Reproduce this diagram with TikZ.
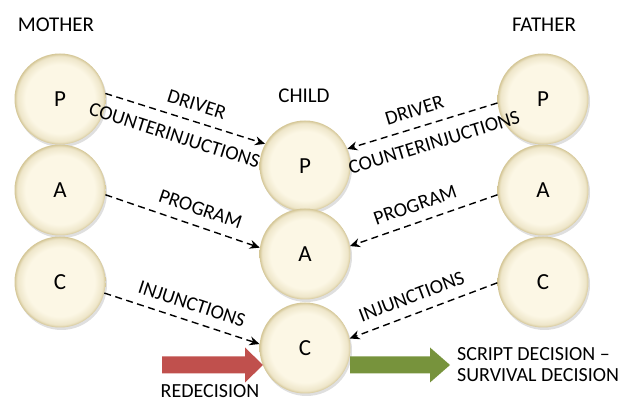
\documentclass[tikz,border=0pt]{standalone}
\usepackage{fontspec}
\setmainfont{Carlito}
\usetikzlibrary{arrows.meta,shadows}
\definecolor{crm}{RGB}{252,247,229}
\definecolor{crmedge}{RGB}{212,198,150}
\definecolor{redx}{RGB}{192,80,77}
\definecolor{grx}{RGB}{119,147,60}
\pgfdeclareradialshading{ballcrm}{\pgfpoint{0bp}{0bp}}{color(0bp)=(crm); color(19bp)=(crm); color(23.5bp)=(crmedge!35!crm); color(25bp)=(crmedge); color(50bp)=(crmedge)}
\tikzset{
    ball/.style={circle,shading=ballcrm,minimum size=91pt,inner sep=0pt,font=\fontsize{23}{27}\selectfont,
        drop shadow={opacity=0.25,shadow xshift=1.5pt,shadow yshift=-2.5pt}},
    lbl/.style={font=\fontsize{20}{24}\selectfont,inner sep=1pt},
    ttl/.style={font=\fontsize{21}{25}\selectfont,inner sep=1pt},
    dsh/.style={black,line width=1.4pt,dash pattern=on 7pt off 4.5pt,-{Stealth[length=10pt,width=9pt]}}
}

\begin{document}
\begin{tikzpicture}[x=1pt,y=1pt]
        \useasboundingbox (0,0) rectangle (620,403);
        \node [ttl] (mot) at (56,378) {MOTHER};
        \node [ttl] (fat) at (544,378) {FATHER};
        \node [ttl] (chi) at (304,307) {CHILD};
        \node [ball] (mp) at (60,304) {P};
        \node [ball] (ma) at (60,213) {A};
        \node [ball] (mc) at (60,121) {C};
        \node [ball] (fp) at (543,304) {P};
        \node [ball] (fa) at (543,213) {A};
        \node [ball] (fc) at (543,121) {C};
        \node [ball] (cp) at (305,237) {P};
        \node [ball] (ca) at (305,149) {A};
        \node [ball] (cc) at (305,55) {C};
        \draw [dsh] (mp.7) -- (cp.151)
            node [lbl,sloped,pos=0.54,above=9pt] {DRIVER}
            node [lbl,sloped,pos=0.47,below=11pt] {COUNTERINJUCTIONS};
        \draw [dsh] (ma.-6) -- (ca.172)
            node [lbl,sloped,pos=0.58,above=9pt] {PROGRAM};
        \draw [dsh] (mc.-14) -- (cc.175)
            node [lbl,sloped,pos=0.53,above=9pt] {INJUNCTIONS};
        \draw [dsh] (fp.185) -- (cp.22)
            node [lbl,sloped,pos=0.52,above=9pt] {DRIVER}
            node [lbl,sloped,pos=0.46,below=11pt] {COUNTERINJUCTIONS};
        \draw [dsh] (fa.186) -- (ca.10)
            node [lbl,sloped,pos=0.52,above=9pt] {PROGRAM};
        \draw [dsh] (fc.181) -- (cc.12)
            node [lbl,sloped,pos=0.54,above=9pt] {INJUNCTIONS};
        \coordinate (rd) at (162,38);
        \coordinate (gd) at (350,38);
        \fill [redx] (rd) -- ++(0,8.5) -- ++(83,0) -- ++(0,9) -- ++(18,-17.5)
            -- ++(-18,-17.5) -- ++(0,9) -- ++(-83,0) -- cycle;
        \fill [grx] (gd) -- ++(0,8.5) -- ++(80,0) -- ++(0,9) -- ++(20,-17.5)
            -- ++(-20,-17.5) -- ++(0,9) -- ++(-80,0) -- cycle;
        \node [lbl,anchor=base] (red) at (210,5) {REDECISION};
        \node [lbl,anchor=base west] (scr) at (456,42) {SCRIPT DECISION –};
        \node [lbl,anchor=base west] (sur) at (456,21) {SURVIVAL DECISION};
    \end{tikzpicture}
\end{document}
